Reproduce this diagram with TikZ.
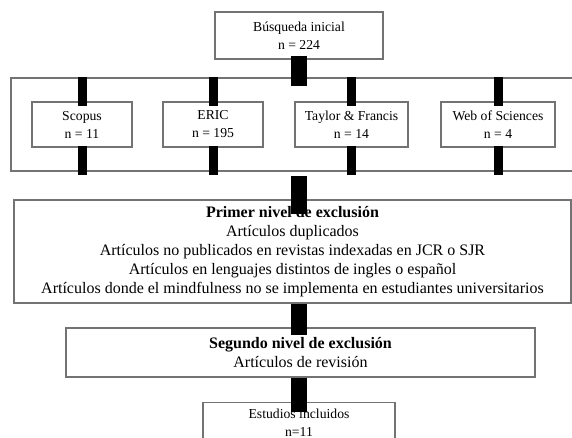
\documentclass[tikz,border=0pt]{standalone}
\usepackage{fontspec}
\setmainfont{Liberation Serif}
\usetikzlibrary{positioning, calc}

\tikzset{
    caja/.style={rectangle, draw=black!55, line width=1.1pt, fill=white, align=center, inner sep=0pt},
    fuente/.style={caja, minimum height=45pt, font=\fontsize{13.7}{18}\selectfont},
    barra/.style={line width=9pt, black},
    barraancha/.style={line width=16pt, black},
}

\begin{document}
\begin{tikzpicture}[x=1pt, y=-1pt]
\useasboundingbox (0,0) rectangle (572,438);

% Busqueda inicial
\node[caja, minimum width=168pt, minimum height=47pt, font=\fontsize{13.7}{18}\selectfont] (busqueda) at (299,35.5) {Búsqueda inicial\\n = 224};

% Bases de datos
\node[caja, minimum width=569pt, minimum height=93pt, fill=none] (bases) at (295.5,124.5) {};
\node[fuente, minimum width=100pt] (scopus) at (82,124.5) {Scopus\\n = 11};
\node[fuente, minimum width=100pt] (eric) at (213,124.5) {ERIC\\n = 195};
\node[fuente, minimum width=113pt] (taylor) at (351.5,124.5) {Taylor \& Francis\\n = 14};
\node[fuente, minimum width=114pt] (web) at (498,124.5) {Web of Sciences\\n = 4};

% Exclusion
\node[caja, minimum width=557pt, minimum height=103pt, font=\fontsize{16}{19}\selectfont] (primer) at (292.5,251.5)
    {\textbf{Primer nivel de exclusión}\\
     Artículos duplicados\\
     Artículos no publicados en revistas indexadas en JCR o SJR\\
     Artículos en lenguajes distintos de ingles o español\\
     Artículos donde el mindfulness no se implementa en estudiantes universitarios};
\node[caja, minimum width=469pt, minimum height=49pt, font=\fontsize{16}{19}\selectfont] (segundo) at (300.5,352.5)
    {\textbf{Segundo nivel de exclusión}\\Artículos de revisión};
\node[caja, minimum width=192pt, minimum height=40pt, anchor=north, font=\fontsize{13.7}{18}\selectfont] (estudios) at (299,402)
    {Estudios incluidos\\n=11};

% Conectores
\draw[barraancha, shorten <=-4pt, shorten >=-9pt] (busqueda.south) -- (busqueda.south |- bases.north);
\foreach \f in {scopus, eric, taylor, web} {
    \draw[barra, shorten >=-5pt] (\f.north |- bases.north) -- (\f.north);
    \draw[barra, shorten <=-2pt, shorten >=-3pt] (\f.south) -- (\f.south |- bases.south);
}
\draw[barraancha, shorten <=4pt, shorten >=-15pt] (bases.south -| busqueda) -- (primer.north -| busqueda);
\draw[barraancha, shorten >=-8pt] (primer.south -| busqueda) -- (segundo.north -| busqueda);
\draw[barraancha, shorten >=-10pt] (segundo.south -| busqueda) -- (estudios.north);

\end{tikzpicture}
\end{document}
